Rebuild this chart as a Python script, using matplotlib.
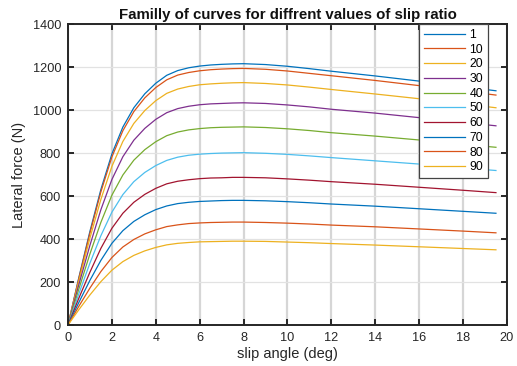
import matplotlib
matplotlib.use("Agg")
import matplotlib.pyplot as plt
import numpy as np

plt.rcParams['font.family'] = ['Liberation Sans', 'DejaVu Sans']

# slip angle samples (deg)
slip_angle = [0, 0.5, 1, 1.5, 2, 2.5, 3, 3.5, 4, 4.5, 5, 5.5, 6, 6.5, 7, 7.5, 8,
              9, 10, 11, 12, 14, 16, 18, 19.5]

slip_ratios = ['1', '10', '20', '30', '40', '50', '60', '70', '80', '90']

# lateral force (N), one list per slip ratio
fy_1 = [0, 223, 436, 631, 796, 921, 1011, 1076, 1125, 1162, 1184, 1197, 1205, 1210, 1213, 1215, 1216,
        1212, 1204, 1193, 1181, 1159, 1135, 1109, 1090]
fy_10 = [0, 219, 428, 620, 782, 904, 993, 1057, 1105, 1141, 1163, 1175, 1183, 1188, 1191, 1193, 1194,
         1190, 1182, 1171, 1160, 1138, 1114, 1089, 1070]
fy_20 = [0, 207, 405, 585, 738, 854, 938, 998, 1044, 1078, 1098, 1110, 1118, 1122, 1125, 1127, 1128,
         1124, 1117, 1107, 1096, 1075, 1053, 1029, 1011]
fy_30 = [0, 190, 371, 537, 677, 783, 860, 915, 957, 988, 1007, 1018, 1025, 1029, 1031, 1033, 1034,
         1031, 1024, 1015, 1004, 986, 965, 943, 927]
fy_40 = [0, 169, 331, 478, 604, 698, 767, 816, 853, 881, 898, 908, 914, 918, 920, 921, 922,
         919, 913, 905, 895, 879, 861, 841, 827]
fy_50 = [0, 147, 288, 416, 525, 607, 667, 710, 742, 766, 781, 790, 795, 798, 800, 801, 802,
         799, 794, 787, 779, 764, 749, 731, 719]
fy_60 = [0, 126, 246, 357, 450, 520, 571, 608, 636, 657, 669, 676, 681, 684, 685, 687, 687,
         685, 680, 674, 667, 655, 641, 627, 616]
fy_70 = [0, 106, 208, 301, 380, 439, 482, 513, 537, 554, 565, 571, 575, 577, 579, 580, 580,
         578, 574, 569, 563, 553, 541, 529, 520]
fy_80 = [0, 88, 172, 249, 314, 363, 398, 424, 443, 458, 466, 472, 475, 477, 478, 479, 479,
         477, 474, 470, 465, 457, 447, 437, 429]
fy_90 = [0, 72, 140, 202, 255, 295, 324, 345, 361, 373, 380, 384, 387, 388, 389, 390, 390,
         389, 386, 383, 379, 372, 364, 356, 350]

all_curves = [fy_1, fy_10, fy_20, fy_30, fy_40, fy_50, fy_60, fy_70, fy_80, fy_90]

# matlab default colour order
matlab_colors = ['#0072BD', '#D95319', '#EDB120', '#7E2F8E', '#77AC30',
                 '#4DBEEE', '#A2142F']

fig = plt.figure(figsize=(5.17, 3.66), dpi=100)
ax = fig.add_axes([0.1315, 0.112, 0.849, 0.822])

for i, fy in enumerate(all_curves):
    ax.plot(slip_angle, fy, color=matlab_colors[i % len(matlab_colors)],
            linewidth=0.9, label=slip_ratios[i])

ax.set_xlim(0, 20)
ax.set_ylim(0, 1400)
ax.set_xticks(np.arange(0, 21, 2))
ax.set_yticks(np.arange(0, 1401, 200))

# vertical grid looks heavier than the horizontal one in the original
ax.grid(axis='x', color='#d6d6d6', linewidth=1.6)
ax.grid(axis='y', color='#e2e2e2', linewidth=0.9)
ax.set_axisbelow(True)

for sp in ax.spines.values():
    sp.set_color('#262626')
    sp.set_linewidth(1.4)

ax.tick_params(direction='in', top=True, right=True, length=4, width=1.4,
               colors='#262626', labelsize=9.2, pad=5)

ax.set_xlabel('slip angle (deg)', fontsize=10.5, color='#262626', labelpad=2)
ax.set_ylabel('Lateral force (N)', fontsize=10.5, color='#262626', labelpad=5)
ax.set_title('Familly of curves for diffrent values of slip ratio',
             fontsize=10.8, fontweight='bold', color='#111111', pad=4)

leg = ax.legend(loc='upper right', bbox_to_anchor=(0.957, 1.0), borderaxespad=0,
                fontsize=8.8, handlelength=3.3, handletextpad=0.4,
                labelspacing=0.22, fancybox=False, framealpha=1,
                edgecolor='#444444', borderpad=0.4)
leg.get_frame().set_linewidth(0.9)

plt.savefig('out.png', dpi=100)
